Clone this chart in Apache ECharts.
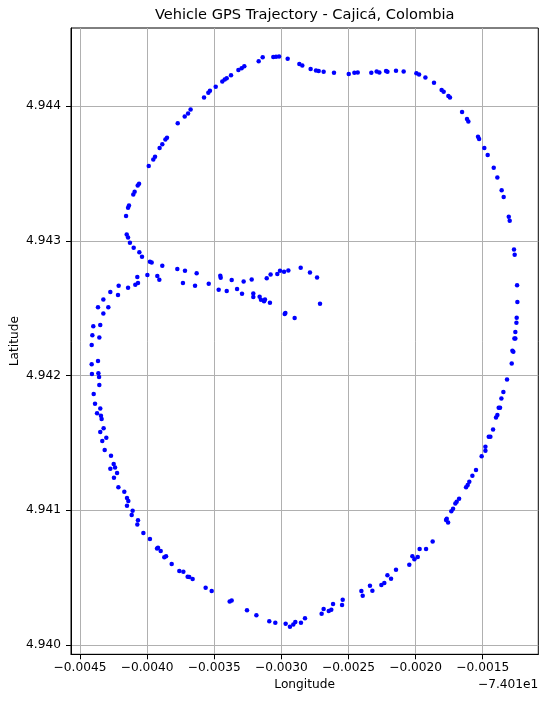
<!DOCTYPE html>
<html>
<head>
<meta charset="utf-8">
<script src="https://cdn.jsdelivr.net/npm/echarts@6/dist/echarts.min.js"></script>
<style>html,body{margin:0;padding:0;background:#fff;}#c{width:550px;height:701px;}</style>
</head>
<body>
<div id="c"></div>
<script>
// ---- data: [longitude, latitude] ----
const northWestArc = [
[-74.012953,4.944351],[-74.013060,4.944363],[-74.013040,4.944365],[-74.013017,4.944368],[-74.013139,4.944361],
[-74.013169,4.944333],[-74.013276,4.944296],[-74.013296,4.944281],[-74.013320,4.944267],[-74.013375,4.944229],
[-74.013407,4.944207],[-74.013422,4.944197],[-74.013440,4.944182],[-74.013489,4.944143],[-74.013532,4.944113],
[-74.013544,4.944098],[-74.013576,4.944064],[-74.013676,4.943975],[-74.013695,4.943945],[-74.013720,4.943923],
[-74.013772,4.943873],[-74.013852,4.943764],[-74.013864,4.943752],[-74.013887,4.943717],[-74.013907,4.943688],
[-74.013941,4.943623],[-74.013954,4.943604],[-74.013988,4.943554],[-74.014060,4.943423],[-74.014070,4.943411],
[-74.014093,4.943364],[-74.014103,4.943344],[-74.014135,4.943262],[-74.014142,4.943245],[-74.014157,4.943183]
];
const northEastArc = [
[-74.012866,4.944311],[-74.012844,4.944301],[-74.012782,4.944274],[-74.012742,4.944264],[-74.012722,4.944259],
[-74.012685,4.944254],[-74.012608,4.944247],[-74.012498,4.944237],[-74.012456,4.944247],[-74.012431,4.944249],
[-74.012330,4.944247],[-74.012290,4.944257],[-74.012270,4.944249],[-74.012220,4.944259],[-74.012210,4.944254],
[-74.012146,4.944262],[-74.012089,4.944257],[-74.011994,4.944244],[-74.011974,4.944234],[-74.011927,4.944212],
[-74.011863,4.944173],[-74.011806,4.944118],[-74.011791,4.944106],[-74.011756,4.944074],[-74.011744,4.944064],
[-74.011654,4.943955],[-74.011617,4.943903],[-74.011607,4.943886],[-74.011535,4.943772],[-74.011527,4.943755],
[-74.011488,4.943688],[-74.011463,4.943636],[-74.011418,4.943542],[-74.011391,4.943470],[-74.011359,4.943374],
[-74.011344,4.943324],[-74.011306,4.943178],[-74.011299,4.943149]
];
const westAndBranches = [
[-74.014152,4.943047],[-74.014142,4.943025],[-74.014128,4.942985],[-74.014100,4.942948],[-74.014058,4.942914],
[-74.014038,4.942881],[-74.013979,4.942844],[-74.013966,4.942839],[-74.013887,4.942815],[-74.013775,4.942790],
[-74.013718,4.942778],[-74.013631,4.942758],[-74.013455,4.942740],[-74.013452,4.942726],[-74.013370,4.942708],
[-74.013281,4.942698],[-74.013221,4.942713],[-74.013109,4.942721],[-74.013080,4.942750],[-74.013030,4.942753],
[-74.013010,4.942778],[-74.012980,4.942770],[-74.012948,4.942780],[-74.012856,4.942800],[-74.012787,4.942765],
[-74.012734,4.942728],[-74.012712,4.942533],
[-74.013998,4.942745],[-74.014073,4.942731],[-74.013924,4.942738],[-74.013909,4.942711],[-74.014068,4.942686],
[-74.014088,4.942674],[-74.014142,4.942651],[-74.014212,4.942666],[-74.014217,4.942597],[-74.014274,4.942619],
[-74.014326,4.942565],[-74.014366,4.942506],[-74.014289,4.942506],[-74.014326,4.942461],[-74.014401,4.942365],
[-74.014349,4.942374],[-74.014408,4.942298],[-74.014356,4.942283],[-74.014413,4.942226],
[-74.013733,4.942686],[-74.013643,4.942666],[-74.013541,4.942681],[-74.013467,4.942637],[-74.013407,4.942627],
[-74.013330,4.942642],[-74.013293,4.942607],[-74.013209,4.942609],[-74.013209,4.942582],[-74.013162,4.942585],
[-74.013152,4.942562],[-74.013129,4.942552],[-74.013122,4.942565],[-74.013085,4.942540],[-74.012975,4.942456],
[-74.012970,4.942463],[-74.012901,4.942426],
[-74.014413,4.942083],[-74.014366,4.942107],[-74.014411,4.942011],[-74.014363,4.942016],[-74.014358,4.941989],
[-74.014356,4.941929],[-74.014398,4.941862],[-74.014388,4.941791],[-74.014373,4.941719],[-74.014349,4.941756],
[-74.014344,4.941702],[-74.014339,4.941677],[-74.014324,4.941608]
];
const eastSide = [
[-74.011267,4.942936],[-74.011262,4.942896],[-74.011244,4.942669],[-74.011242,4.942545],[-74.011247,4.942429],
[-74.011249,4.942392],[-74.011257,4.942322],[-74.011264,4.942275],[-74.011257,4.942275],[-74.011279,4.942184],
[-74.011272,4.942176],[-74.011284,4.942090],[-74.011319,4.941971],[-74.011346,4.941877],[-74.011361,4.941830],
[-74.011371,4.941761],[-74.011381,4.941761],[-74.011391,4.941707],[-74.011401,4.941689]
];
const southWestArc = [
[-74.014349,4.941580],[-74.014304,4.941538],[-74.014334,4.941514],[-74.014316,4.941447],[-74.014269,4.941405],
[-74.014249,4.941343],[-74.014274,4.941308],[-74.014239,4.941318],[-74.014224,4.941276],[-74.014247,4.941242],
[-74.014214,4.941170],[-74.014170,4.941138],[-74.014150,4.941091],[-74.014140,4.941068],[-74.014150,4.941034],
[-74.014108,4.940997],[-74.014115,4.940965],[-74.014068,4.940925],[-74.014073,4.940895],[-74.014028,4.940831],
[-74.013979,4.940787],[-74.013926,4.940717],[-74.013919,4.940722],[-74.013899,4.940698],[-74.013872,4.940651],
[-74.013859,4.940658],[-74.013817,4.940601],[-74.013760,4.940549],[-74.013730,4.940544],[-74.013698,4.940507],
[-74.013686,4.940505],[-74.013661,4.940490],[-74.013564,4.940425],[-74.013519,4.940401],[-74.013385,4.940322],
[-74.013370,4.940331],[-74.013256,4.940257],[-74.013186,4.940220],[-74.013090,4.940176],[-74.013045,4.940166],
[-74.012968,4.940158]
];
const southEastArc = [
[-74.012936,4.940136],[-74.012911,4.940153],[-74.012896,4.940171],[-74.012854,4.940166],[-74.012824,4.940198],
[-74.012700,4.940232],[-74.012685,4.940267],[-74.012647,4.940252],[-74.012628,4.940262],[-74.012615,4.940304],
[-74.012548,4.940297],[-74.012543,4.940336],[-74.012404,4.940401],[-74.012394,4.940366],[-74.012340,4.940440],
[-74.012322,4.940403],[-74.012255,4.940445],[-74.012233,4.940460],[-74.012210,4.940517],[-74.012183,4.940492],
[-74.012146,4.940559],[-74.012047,4.940596],[-74.012024,4.940658],[-74.012009,4.940636],[-74.011984,4.940653],
[-74.011970,4.940712],[-74.011922,4.940712],[-74.011873,4.940769],[-74.011773,4.940928],[-74.011758,4.940910],
[-74.011768,4.940937],[-74.011734,4.940992],[-74.011721,4.941012],[-74.011704,4.941051],[-74.011694,4.941064],
[-74.011676,4.941086],[-74.011624,4.941170],[-74.011612,4.941187],[-74.011600,4.941212],[-74.011577,4.941256],
[-74.011550,4.941299],[-74.011508,4.941400],[-74.011480,4.941442],[-74.011480,4.941472],[-74.011455,4.941546],
[-74.011443,4.941546],[-74.011423,4.941600]
];
const xTicks = [-74.0145, -74.0140, -74.0135, -74.0130, -74.0125, -74.0120, -74.0115];
const yTicks = [4.940, 4.941, 4.942, 4.943, 4.944];
const xOffset = -74.01;
const titleText = 'Vehicle GPS Trajectory - Cajicá, Colombia';

const points = [].concat(northWestArc, northEastArc, westAndBranches, eastSide, southWestArc, southEastArc);

const FONT = 'DejaVu Sans';
const chart = echarts.init(document.getElementById('c'), null, {renderer: 'canvas'});
const gridL = 71, gridR = 11.7, gridT = 28, gridB = 46.7;
const plotCx = gridL + (550 - gridL - gridR) / 2;
const plotCy = gridT + (701 - gridT - gridB) / 2;

chart.setOption({
  animation: false,
  backgroundColor: '#ffffff',
  grid: {left: gridL, right: gridR, top: gridT, bottom: gridB, show: true, borderColor: '#000', borderWidth: 1, backgroundColor: 'transparent'},
  xAxis: {
    type: 'value', min: -74.014567, max: -74.011086, scale: true,
    axisLine: {show: true, onZero: false, lineStyle: {color: '#000', width: 1}},
    axisTick: {show: true, inside: false, length: 5, lineStyle: {color: '#000', width: 1}, customValues: xTicks},
    axisLabel: {customValues: xTicks, margin: 8, color: '#000', fontFamily: FONT, fontSize: 12.2,
      formatter: v => (v - xOffset).toFixed(4).replace('-', '\u2212')},
    splitLine: {show: true, lineStyle: {color: '#b0b0b0', width: 1}}
  },
  yAxis: {
    type: 'value', min: 4.939931, max: 4.944579, scale: true,
    axisLine: {show: true, onZero: false, lineStyle: {color: '#000', width: 1}},
    axisTick: {show: true, inside: false, length: 5, lineStyle: {color: '#000', width: 1}, customValues: yTicks},
    axisLabel: {customValues: yTicks, margin: 10, color: '#000', fontFamily: FONT, fontSize: 12.2,
      formatter: v => v.toFixed(3)},
    splitLine: {show: true, lineStyle: {color: '#b0b0b0', width: 1}}
  },
  graphic: [
    {type: 'text', x: plotCx, y: 15, style: {text: titleText, fontFamily: FONT, fontSize: 14.6, fill: '#000', align: 'center', verticalAlign: 'middle'}},
    {type: 'text', x: plotCx, y: 685, style: {text: 'Longitude', fontFamily: FONT, fontSize: 12.2, fill: '#000', align: 'center', verticalAlign: 'middle'}},
    {type: 'text', x: 538.3, y: 685, style: {text: '\u22127.401e1', fontFamily: FONT, fontSize: 12.2, fill: '#000', align: 'right', verticalAlign: 'middle'}},
    {type: 'text', x: 15, y: plotCy, rotation: Math.PI / 2, style: {text: 'Latitude', fontFamily: FONT, fontSize: 12.2, fill: '#000', align: 'center', verticalAlign: 'middle'}}
  ],
  series: [{
    type: 'scatter', data: points, symbol: 'circle', symbolSize: 4.5,
    itemStyle: {color: '#0000ff', opacity: 1}, silent: true
  }]
});
</script>
</body>
</html>
